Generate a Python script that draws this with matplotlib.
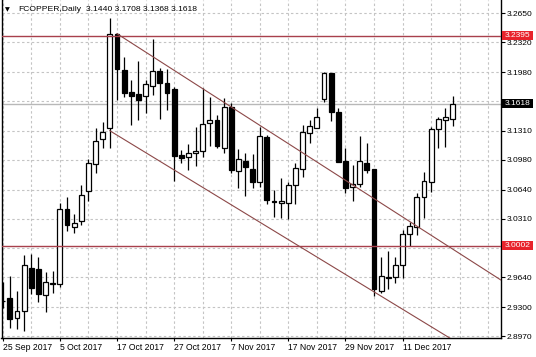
import matplotlib
matplotlib.use("Agg")
import matplotlib.pyplot as plt
import numpy as np
from matplotlib.patches import Rectangle

plt.rcParams['font.family'] = ['Liberation Sans', 'DejaVu Sans']

# ---------------- data ----------------
opens = [2.9369, 2.9409, 2.9172, 2.9255, 2.9742, 2.9731, 2.9438, 2.9577, 2.9560, 3.0415,
         3.0216, 3.0281, 3.0627, 3.0931, 3.1213, 3.1339, 3.2414, 3.2003, 3.1749, 3.1726,
         3.1710, 3.1824, 3.1992, 3.1852, 3.1783, 3.1034, 3.1008, 3.1053, 3.1083, 3.1396,
         3.1433, 3.1117, 3.1578, 3.0855, 3.0969, 3.0871, 3.0730, 3.1236, 3.0505, 3.0483,
         3.0483, 3.0692, 3.0871, 3.1282, 3.1345, 3.1669, 3.1966, 3.1528, 3.0962, 3.0666,
         3.0703, 3.0946, 3.0871, 2.9483, 2.9642, 2.9639, 2.9780, 3.0133, 3.0216, 3.0552,
         3.0730, 3.1327, 3.1433, 3.1440]
highs = [2.9589, 2.9654, 2.9483, 2.9894, 2.9905, 2.9874, 2.9703, 2.9711, 3.0490, 3.0552,
         3.0361, 3.0692, 3.0988, 3.1339, 3.1414, 3.2593, 3.2422, 3.2148, 3.1889, 3.2106,
         3.1889, 3.2354, 3.2023, 3.2011, 3.1810, 3.1091, 3.1160, 3.1357, 3.1795, 3.1692,
         3.1490, 3.1681, 3.1630, 3.1099, 3.1053, 3.1042, 3.1357, 3.1262, 3.0635, 3.0768,
         3.0730, 3.0939, 3.1376, 3.1433, 3.1567, 3.1984, 3.1973, 3.1567, 3.1110, 3.0920,
         3.1251, 3.1174, 3.0880, 2.9867, 2.9943, 2.9874, 3.0179, 3.0273, 3.0597, 3.0837,
         3.1357, 3.1464, 3.1567, 3.1708]
lows = [2.9286, 2.9058, 2.9050, 2.9030, 2.9446, 2.9361, 2.9247, 2.9457, 2.9529, 3.0171,
        3.0148, 3.0236, 3.0513, 3.0825, 3.1110, 3.1110, 3.1661, 3.1699, 3.1376, 3.1433,
        3.1513, 3.1718, 3.1441, 3.1547, 3.0738, 3.0943, 3.0863, 3.0909, 3.1015, 3.1137,
        3.1110, 3.1053, 3.0825, 3.0654, 3.0567, 3.0661, 3.0673, 3.0475, 3.0330, 3.0312,
        3.0301, 3.0475, 3.0780, 3.1174, 3.1339, 3.1640, 3.1422, 3.0950, 3.0597, 3.0513,
        3.0666, 3.0832, 2.9426, 2.9457, 2.9502, 2.9578, 2.9628, 2.9996, 3.0122, 3.0312,
        3.0616, 3.1110, 3.1129, 3.1368]
closes = [2.9365, 2.9160, 2.9258, 2.9780, 2.9521, 2.9449, 2.9582, 2.9565, 3.0415, 3.0236,
          3.0262, 3.0578, 3.0939, 3.1197, 3.1300, 3.2414, 3.2015, 3.1738, 3.1710, 3.1661,
          3.1844, 3.1992, 3.1859, 3.1745, 3.1023, 3.0996, 3.1060, 3.1083, 3.1384, 3.1430,
          3.1137, 3.1578, 3.0863, 3.0985, 3.0894, 3.0730, 3.1251, 3.0521, 3.0500, 3.0513,
          3.0692, 3.0882, 3.1300, 3.1365, 3.1464, 3.1966, 3.1528, 3.0958, 3.0654, 3.0700,
          3.0966, 3.0863, 2.9502, 2.9658, 2.9636, 2.9780, 3.0133, 3.0228, 3.0559, 3.0738,
          3.1327, 3.1441, 3.1464, 3.1618]

date_label_bars = [0, 8, 16, 24, 32, 40, 48, 56]
date_labels = ["25 Sep 2017", "5 Oct 2017", "17 Oct 2017", "27 Oct 2017",
               "7 Nov 2017", "17 Nov 2017", "29 Nov 2017", "11 Dec 2017"]
price_ticks = [3.2650, 3.2320, 3.1980, 3.1650, 3.1310, 3.0980, 3.0640,
               3.0310, 2.9970, 2.9640, 2.9300, 2.8970]
# tick labels hidden behind the price boxes in the reference
hidden_tick_labels = [3.1650, 2.9970]

level_lines = [3.2395, 3.0002]
last_price = 3.1618
channel_upper = [(16, 3.2418), (69.74, 2.9610)]
channel_lower = [(15, 3.1311), (64.5, 2.8853)]

title_symbol = "FCOPPER,Daily"
title_ohlc = "3.1440 3.1708 3.1368 3.1618"

# ---------------- figure ----------------
W, H = 536, 357
fig = plt.figure(figsize=(W / 100, H / 100), dpi=100)
left_px, right_px, top_px, bottom_px = 1.5, 500.7, 0.0, 338.3
ymin, ymax = 2.8944, 3.2802
ax = fig.add_axes([left_px / W, 1 - bottom_px / H,
                   (right_px - left_px) / W, (bottom_px - top_px) / H])
ax.set_xlim(-0.17, 69.74)
ax.set_ylim(ymin, ymax)

grid_kw = dict(color='#c4c4c4', linestyle=(0, (2.2, 2.2)), linewidth=0.8)
x = np.arange(len(opens))

# grid & ticks
ax.set_xticks(date_label_bars)
ax.set_xticklabels(date_labels, ha='left')
ax.set_xticks(np.arange(0, 70, 4), minor=True)
ax.grid(True, which='both', axis='x', **grid_kw)
ax.set_yticks(price_ticks)
ax.set_yticklabels(["" if p in hidden_tick_labels else f"{p:.4f}" for p in price_ticks])
ax.grid(True, which='major', axis='y', **grid_kw)
ax.set_axisbelow(True)

ax.yaxis.tick_right()
ax.tick_params(axis='x', which='major', direction='out', length=2.2, width=0.8,
               pad=1.5, labelsize=6.2, colors='black')
ax.tick_params(axis='x', which='minor', length=0)
ax.tick_params(axis='y', which='major', direction='out', length=2.9, width=0.8,
               pad=1.2, labelsize=6.0, colors='black')
for s in ['left', 'bottom', 'right']:
    ax.spines[s].set_color('black')
    ax.spines[s].set_linewidth(1.0)
ax.spines['top'].set_visible(False)

# last price line
ax.axhline(last_price, color='#b8b8b8', linewidth=1.0, zorder=1.5)

# candles
o = np.array(opens); c = np.array(closes)
hi = np.array(highs); lo = np.array(lows)
ax.vlines(x, lo, hi, color='black', linewidth=0.9, zorder=2)
up = c >= o
bottoms = np.minimum(o, c)
heights = np.abs(c - o)
ax.bar(x[up], heights[up], bottom=bottoms[up], width=0.68, color='white',
       edgecolor='black', linewidth=0.9, zorder=3)
ax.bar(x[~up], heights[~up], bottom=bottoms[~up], width=0.68, color='black',
       edgecolor='black', linewidth=0.9, zorder=3)

# level lines
for lv in level_lines:
    ax.axhline(lv, color='#a8404c', linewidth=1.0, zorder=4)

# channel
for seg in (channel_upper, channel_lower):
    ax.plot([seg[0][0], seg[1][0]], [seg[0][1], seg[1][1]],
            color='#8c4848', linewidth=0.8, zorder=4)

# price labels on the axis
def price_box(price, fc):
    ypix = bottom_px - (price - ymin) / (ymax - ymin) * (bottom_px - top_px)
    yf = 1 - ypix / H
    fig.patches.append(Rectangle((501.8 / W, yf - 4.6 / H), 31.5 / W, 9.2 / H,
                                 transform=fig.transFigure, facecolor=fc,
                                 edgecolor='none', zorder=5))
    fig.text(504.3 / W, yf, f"{price:.4f}", color='white', fontsize=6.0,
             va='center', ha='left', zorder=6)

price_box(level_lines[0], '#e8232b')
price_box(level_lines[1], '#e8232b')
price_box(last_price, 'black')

# header
fig.text(5 / W, 1 - 9.8 / H, "\u25BC", fontsize=4.5, va='center', ha='left',
         color='black', family='DejaVu Sans')
fig.text(18 / W, 1 - 9.6 / H, title_symbol, fontsize=6.1, va='center',
         ha='left', color='black')
fig.text(86 / W, 1 - 9.6 / H, title_ohlc, fontsize=6.1, va='center',
         ha='left', color='black')

fig.savefig("out.png", dpi=100, facecolor='white')
